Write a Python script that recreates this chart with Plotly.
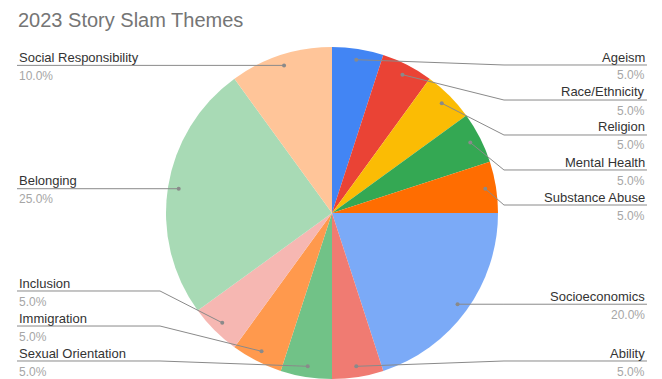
import math
import plotly.graph_objects as go

# ---- data ----
labels = ["Ageism", "Race/Ethnicity", "Religion", "Mental Health", "Substance Abuse",
          "Socioeconomics", "Ability", "Sexual Orientation", "Immigration", "Inclusion",
          "Belonging", "Social Responsibility"]
values = [5, 5, 5, 5, 5, 20, 5, 5, 5, 5, 25, 10]
colors = ["#4285F4", "#EA4335", "#FBBC04", "#34A853", "#FF6D01", "#7BAAF7",
          "#F07B72", "#71C287", "#FF994D", "#F6B7B2", "#A8DAB5", "#FFC599"]
title_text = "2023 Story Slam Themes"

# ---- layout constants (pixels) ----
W, H = 662, 379
CX, CY, R = 332, 213, 166
X_LEFT, X_RIGHT = 17, 647
Y_MIN, Y_MAX, GAP = 65, 361, 35
FONT = "Liberation Sans, Arial, sans-serif"

def px(x):
    return x / W

def py(y):
    return 1 - y / H

fig = go.Figure()
fig.add_trace(go.Pie(
    labels=labels, values=values, sort=False, direction="clockwise", rotation=0,
    marker=dict(colors=colors, line=dict(width=0)),
    textinfo="none", hoverinfo="label+percent", showlegend=False,
    domain=dict(x=[(CX - R) / W, (CX + R) / W], y=[0, 2 * R / H]),
))

total = sum(values)
items = []
cum = 0
for lab, v in zip(labels, values):
    mid = (cum + v / 2) / total * 2 * math.pi
    cum += v
    rd = 0.935 * R
    dx = CX + rd * math.sin(mid)
    dy = CY - rd * math.cos(mid)
    side = "right" if math.sin(mid) > 0 else "left"
    items.append(dict(label=lab, pct=v / total * 100, dx=dx, dy=dy, side=side))

# resolve label positions per side
for side in ("left", "right"):
    grp = sorted([it for it in items if it["side"] == side], key=lambda it: it["dy"])
    prev = None
    for it in grp:
        y = max(it["dy"], Y_MIN)
        if prev is not None:
            y = max(y, prev + GAP)
        it["ly"] = y
        prev = y
    nxt = None
    for it in reversed(grp):
        y = min(it["ly"], Y_MAX)
        if nxt is not None:
            y = min(y, nxt - GAP)
        it["ly"] = y
        nxt = y

shapes = []
annotations = []
for it in items:
    if it["side"] == "right":
        ex, tx, anchor = CX + R + 6, X_RIGHT, "right"
    else:
        ex, tx, anchor = CX - R - 6, X_LEFT, "left"
    path = "M {:.4f} {:.4f} L {:.4f} {:.4f} L {:.4f} {:.4f}".format(
        px(it["dx"]), py(it["dy"]), px(ex), py(it["ly"]), px(tx), py(it["ly"]))
    shapes.append(dict(type="path", path=path, xref="paper", yref="paper",
                       line=dict(color="#8a8a8a", width=1), layer="above"))
    shapes.append(dict(type="circle", xref="paper", yref="paper",
                       x0=px(it["dx"] - 2), x1=px(it["dx"] + 2),
                       y0=py(it["dy"] - 2), y1=py(it["dy"] + 2),
                       fillcolor="#8a8a8a", line=dict(width=0), layer="above"))
    annotations.append(dict(x=px(tx), y=py(it["ly"] - 8), xref="paper", yref="paper",
                            text=it["label"], showarrow=False, xanchor=anchor,
                            yanchor="middle", font=dict(family=FONT, size=13, color="#333333")))
    annotations.append(dict(x=px(tx), y=py(it["ly"] + 10.5), xref="paper", yref="paper",
                            text="{:.1f}%".format(it["pct"]), showarrow=False, xanchor=anchor,
                            yanchor="middle", font=dict(family=FONT, size=12, color="#a6a6a6")))

annotations.append(dict(x=px(16), y=py(20), xref="paper", yref="paper", text=title_text,
                        showarrow=False, xanchor="left", yanchor="middle",
                        font=dict(family=FONT, size=20, color="#757575")))

fig.update_layout(
    width=W, height=H, margin=dict(l=0, r=0, t=0, b=0),
    paper_bgcolor="white", plot_bgcolor="white",
    shapes=shapes, annotations=annotations, showlegend=False,
)

fig.write_html("out.html", config={"displayModeBar": False},
               post_script="document.body.style.margin='0';document.body.style.overflow='hidden';")
